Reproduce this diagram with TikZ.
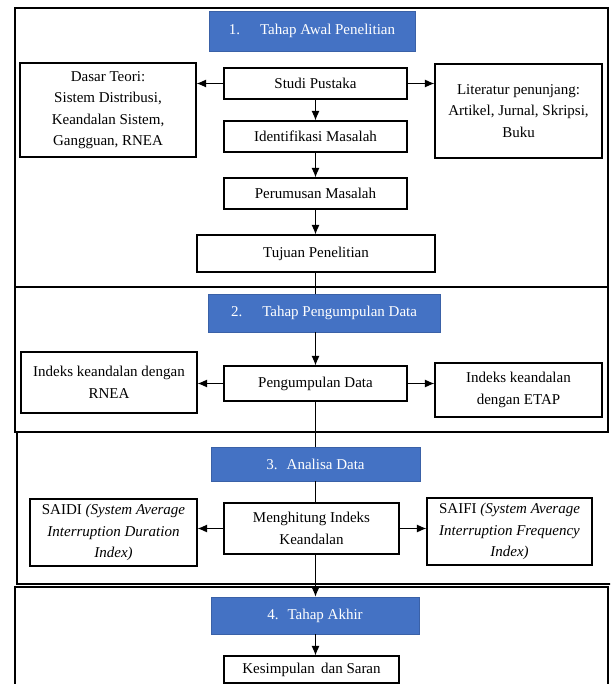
\documentclass[tikz,border=0pt]{standalone}
\usepackage{fontspec}
\setmainfont{Liberation Serif}
\usetikzlibrary{arrows.meta}
\definecolor{hdrblue}{RGB}{68,114,196}
\begin{document}
\begin{tikzpicture}[x=1pt,y=-1pt,
  every node/.style={font=\fontsize{15}{21.5}\selectfont},
  boxnode/.style={draw=black, line width=1.1pt, fill=white, align=center, inner sep=0pt},
  hdr/.style={fill=hdrblue, draw=hdrblue!85!black, line width=0.6pt, text=white, align=center, inner sep=0pt},
  framebox/.style={draw=black, line width=1.2pt},
  arr/.style={-{Latex[length=9.5pt,width=8pt]}, line width=1.1pt},
  conn/.style={line width=1.1pt}]
\useasboundingbox (0,0) rectangle (610,684);
\fill[white] (0,0) rectangle (610,684);
\begin{scope}
\clip (0,0) rectangle (610,684);
\draw[framebox] (15,8) rectangle (608,287);
\draw[framebox] (15,287) rectangle (608,432);
\draw[line width=2.2pt] (15,287) -- (608,287);
\draw[framebox] (17,432) -- (17,584) -- (620,584);
\draw[framebox] (15,587) rectangle (608,700);
\end{scope}

% section 1
\node[hdr, minimum width=206, minimum height=40] (h1) at (312,31) {1.\hspace{20pt}Tahap Awal Penelitian};
\node[boxnode, minimum width=176, minimum height=94] (dasar) at (108,110) {Dasar Teori:\\Sistem Distribusi,\\Keandalan Sistem,\\Gangguan, RNEA};
\node[boxnode, minimum width=183, minimum height=31] (studi) at (315.5,83.5) {Studi Pustaka};
\node[boxnode, minimum width=167, minimum height=94] (lit) at (518.5,111) {Literatur penunjang:\\Artikel, Jurnal, Skripsi,\\Buku};
\node[boxnode, minimum width=183, minimum height=31] (ident) at (315.5,136.5) {Identifikasi Masalah};
\node[boxnode, minimum width=183, minimum height=31] (perum) at (315.5,193.5) {Perumusan Masalah};
\node[boxnode, minimum width=238, minimum height=37] (tujuan) at (316,253.5) {Tujuan Penelitian};

% section 2
\node[hdr, minimum width=232, minimum height=38] (h2) at (324,313) {2.\hspace{20pt}Tahap Pengumpulan Data};
\node[boxnode, minimum width=176, minimum height=61] (rnea) at (109,382.5) {Indeks keandalan dengan\\RNEA};
\node[boxnode, minimum width=183, minimum height=35] (kumpul) at (315.5,383.5) {Pengumpulan Data};
\node[boxnode, minimum width=167, minimum height=54] (etap) at (518.5,390) {Indeks keandalan\\dengan ETAP};

% section 3
\node[hdr, minimum width=209, minimum height=34] (h3) at (315.5,464) {3.\hspace{9pt}Analisa Data};
\node[boxnode, minimum width=167, minimum height=67] (saidi) at (113.5,532.5) {SAIDI \textit{(System Average}\\\textit{Interruption Duration}\\\textit{Index)}};
\node[boxnode, minimum width=175, minimum height=51] (hitung) at (311.5,528.5) {Menghitung Indeks\\Keandalan};
\node[boxnode, minimum width=165, minimum height=67] (saifi) at (509.5,531.5) {SAIFI \textit{(System Average}\\\textit{Interruption Frequency}\\\textit{Index)}};

% section 4
\node[hdr, minimum width=208, minimum height=37] (h4) at (315,615.5) {4.\hspace{9pt}Tahap Akhir};
\node[boxnode, minimum width=175, minimum height=27] (kesim) at (311.5,669.5) {Kesimpulan\, dan Saran};

% connectors
\draw[arr] (studi) -- (ident);
\draw[arr] (ident) -- (perum);
\draw[arr] (perum.south) -- (perum.south |- tujuan.north);
\draw[conn] (tujuan.south -| kumpul) -- (h2.north -| kumpul);
\draw[arr] (h2.south -| kumpul) -- (kumpul.north);
\draw[conn] (kumpul.south) -- (h3.north -| kumpul);
\draw[conn] (h3.south -| kumpul) -- (hitung.north -| kumpul);
\draw[arr] (hitung.south -| kumpul) -- (h4.north -| kumpul);
\draw[arr] (h4.south -| kumpul) -- (kesim.north -| kumpul);

\draw[arr] (studi.west) -- (dasar.east |- studi.west);
\draw[arr] (studi.east) -- (lit.west |- studi.east);
\draw[arr] (kumpul.west) -- (rnea.east |- kumpul.west);
\draw[arr] (kumpul.east) -- (etap.west |- kumpul.east);
\draw[arr] (hitung.west) -- (saidi.east |- hitung.west);
\draw[arr] (hitung.east) -- (saifi.west |- hitung.east);
\end{tikzpicture}
\end{document}
